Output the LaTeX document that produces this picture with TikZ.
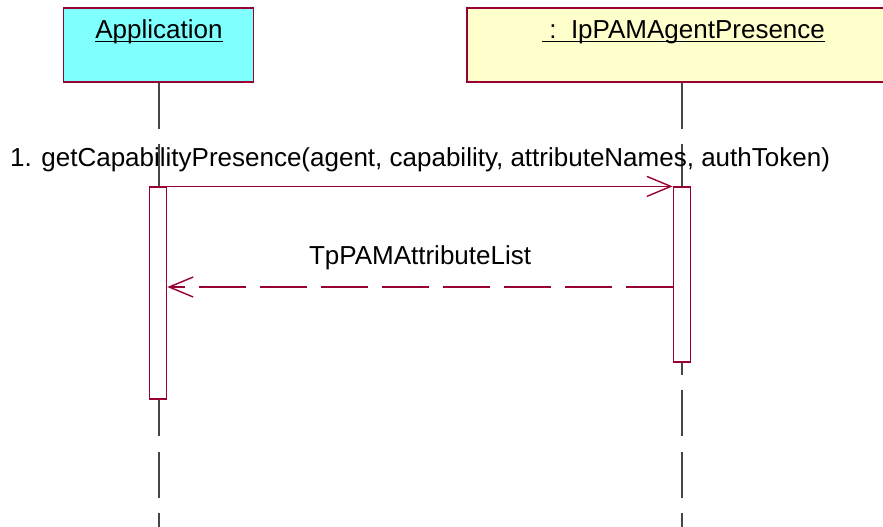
\documentclass[tikz,border=0pt]{standalone}
\usepackage{xcolor}
\usepackage{tikz}
\usepackage{fontspec}
\setmainfont{Liberation Sans}
\usetikzlibrary{arrows.meta, positioning}

\definecolor{umlred}{RGB}{153,0,51}
\definecolor{appcyan}{RGB}{128,255,255}
\definecolor{objyellow}{RGB}{255,255,204}
\definecolor{lifegray}{RGB}{70,70,70}
\newcommand{\ulname}[1]{\setbox0\hbox{#1}\rlap{\rule[-2.2pt]{\wd0}{0.6pt}}\box0}

\begin{document}
\begin{tikzpicture}[x=0.5pt,y=-0.5pt,font=\fontsize{13}{15}\selectfont,
    lifeline/.style={draw=lifegray,line width=0.6pt,dash pattern=on 23pt off 7.75pt},
    activation/.style={draw=umlred,fill=white,line width=0.6pt,rectangle,inner sep=0pt,minimum width=8.5pt},
    call/.style={draw=umlred,line width=0.6pt,-{Straight Barb[length=12pt,width=10pt,line width=0.7pt]}},
    reply/.style={call,dash pattern=on 23.5pt off 7pt}]
        \useasboundingbox (0,0) rectangle (883,526);
        \begin{scope}[every node/.style={draw=umlred,line width=0.6pt,rectangle,inner sep=0pt,minimum height=37pt}]
          \node[fill=appcyan,minimum width=95pt] (app) at (158.5,45) {};
          \node[fill=objyellow,minimum width=209pt] (agent) at (676,45) {};
        \end{scope}
        \begin{scope}[every node/.style={anchor=base,inner sep=0pt}]
          \node (appname) at (159,38) {\ulname{Application}};
          \node (agentname) at (683.5,38) {\ulname{\ :\ \ IpPAMAgentPresence}};
        \end{scope}
        % lifelines
        \coordinate (append) at (159,530);
        \coordinate (agentend) at (682,530);
        \draw[lifeline] (append |- app.south) -- (append);
        \draw[lifeline] (agentend |- agent.south) -- (agentend);
        \node[activation,minimum height=106pt] (appact) at (158.3,293) {};
        \node[activation,minimum height=87.5pt] (agentact) at (681.8,274.5) {};
        % messages
        \coordinate (rety) at (0,287);
        \begin{scope}[every node/.style={inner sep=0pt}]
          \path (appact.north east) edge[call] node[above=7pt] {1. getCapabilityPresence(agent, capability, attributeNames, authToken)} (agentact.north west);
          \path (agentact.west |- rety) edge[reply] node[above=8.3pt] {TpPAMAttributeList} (appact.east |- rety);
        \end{scope}
      \end{tikzpicture}
\end{document}
